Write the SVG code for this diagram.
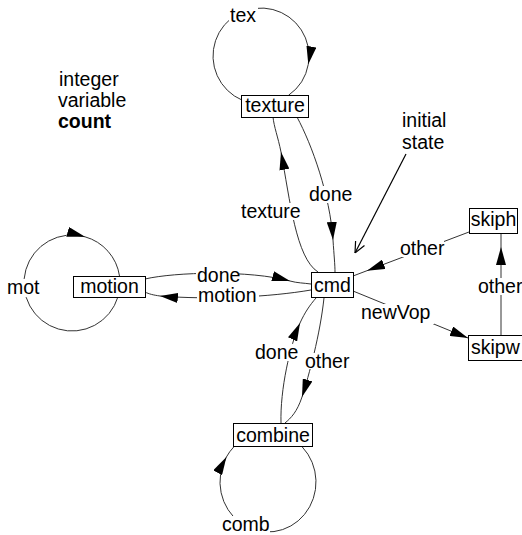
<svg xmlns="http://www.w3.org/2000/svg" width="522" height="535" viewBox="0 0 522 535">
<style>
text{font-family:"Liberation Sans",Arial,sans-serif;font-size:19.5px;fill:#000}
.e{fill:none;stroke:#333;stroke-width:1}
.m{marker-mid:url(#ah)}
.bg{fill:#fff;stroke:none}
.box{fill:#fff;stroke:#000;stroke-width:1}
.c{text-anchor:middle}
</style>
<defs>
<marker id="ah" markerUnits="userSpaceOnUse" markerWidth="18" markerHeight="10" refX="18" refY="5" orient="auto" viewBox="0 0 18 10"><path d="M0,0 L18,5 L0,10 z" fill="#000"/></marker>
<marker id="ah2" markerUnits="userSpaceOnUse" markerWidth="18" markerHeight="10" refX="18" refY="5" orient="auto" viewBox="0 0 18 10"><path d="M0,0 L18,5 L0,10 z" fill="#000"/></marker>
<marker id="open" markerUnits="userSpaceOnUse" markerWidth="12" markerHeight="12" refX="11" refY="5" orient="auto" viewBox="-1 -1 12 12"><path d="M0,0 L11,5 L0,10" fill="none" stroke="#000" stroke-width="1.2"/></marker>
</defs>
<g id="connectors">
<path class="e m" d="M242.2,100.2 A48 48 0 1 1 308.3,64.3 A48 48 0 0 1 288.5,95.3"/>
<path class="e m" d="M117.9,297 A48 48 0 1 1 85,236.8 A48 48 0 0 1 119.5,276"/>
<path class="e m" d="M302.3,447 A48 50 0 1 1 226.4,457 A48 50 0 0 1 233.7,447"/>
<path class="e m" d="M318,272 C296,258 290,200 281,152 C278,137 274,127 273,117"/>
<path class="e m" d="M297,117 C312,145 330,195 333,240 C334,255 335,265 335,272"/>
<path class="e m" d="M145,279 C175,272 250,270 290,281 C297,283 304,283 311,284"/>
<path class="e m" d="M311,290 C270,297 210,300 160,296 C153,295 149,294 145,292"/>
<path class="e m" d="M469,232 L367,270.7 L353,276"/>
<path class="e" marker-end="url(#ah2)" d="M353,291 L468,338"/>
<path class="e m" d="M501,335 L501,247 L501,233"/>
<path class="e m" d="M324,298 C320,335 309,375 302,397 C297,412 291,418 285,423"/>
<path class="e m" d="M281,423 C280,390 290,345 300,323 C305,312 310,305 316,298"/>
<path fill="none" stroke="#000" stroke-width="1.2" marker-end="url(#open)" d="M406,154 L355,253"/>
</g>
<g id="labels">
<rect class="bg" x="229" y="6" width="29" height="18"/><text x="230" y="22">tex</text>
<rect class="bg" x="6" y="279" width="34" height="18"/><text x="7" y="294">mot</text>
<rect class="bg" x="221" y="516" width="49" height="19"/><text x="222" y="531">comb</text>
<rect class="bg" x="240" y="203" width="61" height="17"/><text x="241" y="218">texture</text>
<rect class="bg" x="308" y="186" width="44" height="17"/><text x="309" y="201">done</text>
<rect class="bg" x="196" y="267" width="43" height="17"/><text x="197" y="282">done</text>
<rect class="bg" x="197" y="287" width="62" height="17"/><text x="198" y="302">motion</text>
<rect class="bg" x="399" y="240" width="45" height="17"/><text x="400" y="255">other</text>
<rect class="bg" x="360" y="304" width="74" height="20"/><text x="361" y="319">newVop</text>
<rect class="bg" x="477" y="278" width="45" height="17"/><text x="478" y="293">other</text>
<rect class="bg" x="304" y="353" width="44" height="16"/><text x="305" y="368">other</text>
<rect class="bg" x="254" y="344" width="42" height="17"/><text x="255" y="359">done</text>
<text x="59" y="86">integer</text>
<text x="58" y="107">variable</text>
<text x="58" y="128" font-weight="bold">count</text>
<text x="402" y="127">initial</text>
<text x="402" y="149">state</text>
</g>
<g id="texture"><rect class="box" x="241.5" y="95.5" width="67" height="22"/><text class="c" x="275" y="112">texture</text></g>
<g id="motion"><rect class="box" x="73.5" y="276.5" width="72" height="21"/><text class="c" x="109.5" y="293">motion</text></g>
<g id="cmd"><rect class="box" x="311.5" y="272.5" width="42" height="25"/><text class="c" x="332.5" y="292">cmd</text></g>
<g id="skiph"><rect class="box" x="469.5" y="208.5" width="48" height="25"/><text class="c" x="493.5" y="226">skiph</text></g>
<g id="skipw"><rect class="box" x="468.5" y="335.5" width="62" height="25"/><text x="471" y="354">skipw</text></g>
<g id="combine"><rect class="box" x="233.5" y="423.5" width="79" height="23"/><text class="c" x="273" y="442">combine</text></g>
</svg>
